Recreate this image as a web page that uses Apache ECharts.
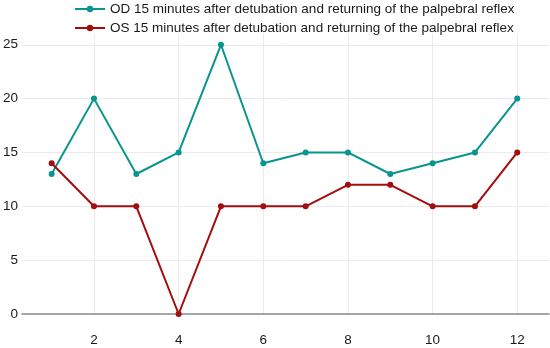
<!DOCTYPE html>
<html>
<head>
<meta charset="utf-8">
<script src="https://cdn.jsdelivr.net/npm/echarts@6/dist/echarts.min.js"></script>
<style>html,body{margin:0;padding:0;background:#fff}#c{width:550px;height:348px}</style>
</head>
<body>
<div id="c"></div>
<script>
const xValues = [1,2,3,4,5,6,7,8,9,10,11,12];
const odValues = [13,20,13,15,25,14,15,15,13,14,15,20];
const osValues = [14,10,10,0,10,10,10,12,12,10,10,15];
const xTickValues = [2,4,6,8,10,12];
const yTickValues = [0,5,10,15,20,25];
const odName = 'OD 15 minutes after detubation and returning of the palpebral reflex';
const osName = 'OS 15 minutes after detubation and returning of the palpebral reflex';

const chart = echarts.init(document.getElementById('c'));
const font = 'Liberation Sans, Arial, sans-serif';
chart.setOption({
  animation: false,
  textStyle: {fontFamily: font},
  legend: {
    orient: 'vertical',
    left: 74, top: 2, padding: 0,
    itemWidth: 30, itemHeight: 8, itemGap: 5,
    textStyle: {fontSize: 13.5, color: '#1a1a1a', fontFamily: font},
    data: [odName, osName]
  },
  grid: {left: 19.5, right: 1, top: 34, bottom: 34, containLabel: false},
  xAxis: {
    type: 'value', min: 0.3, max: 12.75,
    axisLine: {show: true, lineStyle: {color: '#8c8c8c', width: 1.6}},
    axisTick: {show: false, customValues: xTickValues},
    axisLabel: {color: '#1a1a1a', fontSize: 13.5, margin: 19, customValues: xTickValues},
    splitLine: {show: true, lineStyle: {color: '#ebebeb', width: 1}}
  },
  yAxis: {
    type: 'value', min: 0, max: 26,
    axisLine: {show: false},
    axisTick: {show: false, customValues: yTickValues},
    axisLabel: {color: '#1a1a1a', fontSize: 13.5, margin: 4, customValues: yTickValues},
    splitLine: {show: true, lineStyle: {color: '#ebebeb', width: 1}}
  },
  series: [
    {name: odName, type: 'line', data: xValues.map((x,i)=>[x, odValues[i]]),
     symbol: 'circle', symbolSize: 6, color: '#08948f', lineStyle: {width: 2}},
    {name: osName, type: 'line', data: xValues.map((x,i)=>[x, osValues[i]]),
     symbol: 'circle', symbolSize: 6, color: '#a30d0d', lineStyle: {width: 2}}
  ]
});
</script>
</body>
</html>
